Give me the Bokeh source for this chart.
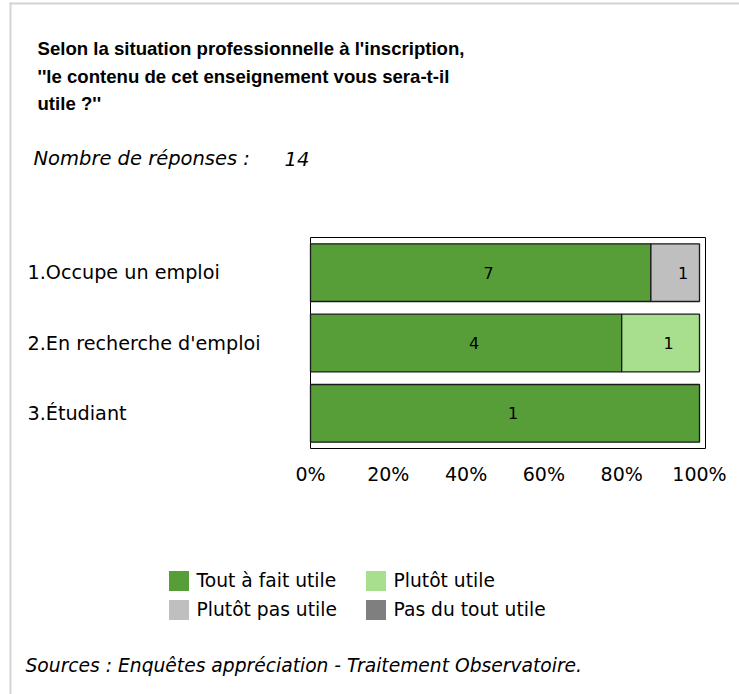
from bokeh.plotting import figure
from bokeh.models import (Label, Legend, LegendItem, NumeralTickFormatter, FixedTicker,
                          Range1d, BoxAnnotation)
from bokeh.core.properties import value
from bokeh.embed import file_html
from bokeh.resources import INLINE

# ---------------- data ----------------
title_lines = ["Selon la situation professionnelle à l'inscription,",
               "''le contenu de cet enseignement vous sera-t-il",
               "utile ?''"]
n_label = "Nombre de réponses :"
n_responses = 14
source_note = "Sources : Enquêtes appréciation - Traitement Observatoire."

categories = ["1.Occupe un emploi", "2.En recherche d'emploi", "3.Étudiant"]
series_names = ["Tout à fait utile", "Plutôt utile", "Plutôt pas utile", "Pas du tout utile"]
tout_a_fait_utile = [7, 4, 1]
plutot_utile = [0, 1, 0]
plutot_pas_utile = [1, 0, 0]
pas_du_tout_utile = [0, 0, 0]
series_values = [tout_a_fait_utile, plutot_utile, plutot_pas_utile, pas_du_tout_utile]
colors = ["#579E38", "#A8DF8E", "#BFBFBF", "#7F7F7F"]
x_ticks = [0, 0.2, 0.4, 0.6, 0.8, 1.0]

# ---------------- layout (pixels on the canvas) ----------------
W, H = 739, 694
X0_PX, X100_PX = 310, 699          # where 0% and 100% fall
BOX_R_PX = 705                     # right edge of plot box
BOX_T_PX, BOX_B_PX = 237, 448      # top / bottom of plot box

n_cat = len(categories)
ypos = [n_cat - i for i in range(n_cat)]  # top category at top
px_per_x = (X100_PX - X0_PX) / 1.0
px_per_y = (BOX_B_PX - BOX_T_PX) / n_cat
y_lo, y_hi = 0.5, n_cat + 0.5
x_range = Range1d(-X0_PX / px_per_x, (W - X0_PX) / px_per_x)
y_range = Range1d(y_lo - (H - BOX_B_PX) / px_per_y, y_hi + BOX_T_PX / px_per_y)
box_right = (BOX_R_PX - X0_PX) / px_per_x


def sy(py):
    return H - py


p = figure(width=W, height=H, output_backend="svg", toolbar_location=None,
           x_range=x_range, y_range=y_range,
           min_border=0, min_border_left=0, min_border_right=0,
           min_border_top=0, min_border_bottom=0)
p.background_fill_color = "white"
p.border_fill_color = "white"
p.outline_line_color = None
p.xgrid.visible = False
p.ygrid.visible = False
p.yaxis.visible = False

xa = p.xaxis[0]
xa.fixed_location = y_lo
xa.ticker = FixedTicker(ticks=x_ticks)
xa.formatter = NumeralTickFormatter(format="0%")
xa.axis_line_color = None
xa.major_tick_line_color = None
xa.minor_tick_line_color = None
xa.major_tick_out = 0
xa.major_tick_in = 0
xa.major_label_standoff = 14
xa.major_label_text_font = "DejaVu Sans"
xa.major_label_text_font_size = "19px"
xa.major_label_text_color = "#000000"

# plot box outline
p.quad(left=[0], right=[box_right], bottom=[y_lo], top=[y_hi], fill_color=None,
       line_color="#000000", line_width=1)

# ---------------- stacked bars (percent of row total) ----------------
totals = [sum(s[i] for s in series_values) for i in range(n_cat)]
cum = [0.0] * n_cat
lab_x, lab_y, lab_t = [], [], []
for name, vals, col in zip(series_names, series_values, colors):
    ys, lefts, rights = [], [], []
    for i, v in enumerate(vals):
        if v > 0:
            share = v / totals[i]
            ys.append(ypos[i])
            lefts.append(cum[i])
            rights.append(cum[i] + share)
            lab_x.append(cum[i] + share / 2)
            lab_y.append(ypos[i])
            lab_t.append(str(v))
            cum[i] += share
    if ys:
        p.hbar(y=ys, left=lefts, right=rights, height=0.82, fill_color=col,
               line_color="#1a1a1a", line_width=1.3)

p.text(x=lab_x, y=lab_y, text=lab_t, x_offset=8, text_align="center",
       text_baseline="middle", text_font=value("DejaVu Sans"), text_font_size="16px",
       text_color="#000000")

# ---------------- legend (zero-width proxy bars, no outline) ----------------
items = []
for name, col in zip(series_names, colors):
    r = p.hbar(y=[ypos[0]], left=[0], right=[0], height=0.8, fill_color=col,
               line_color=None)
    items.append(LegendItem(label=name, renderers=[r]))
legend = Legend(items=items, location=(165.5, sy(621.5)), orientation="horizontal",
                ncols=2, glyph_width=25, glyph_height=25, label_standoff=6,
                label_width=162, label_height=20, spacing=4, padding=0, margin=0,
                border_line_color=None, background_fill_alpha=0,
                label_text_font="DejaVu Sans", label_text_font_size="18.7px",
                label_text_color="#000000")
p.add_layout(legend)

# ---------------- texts ----------------
for k, line in enumerate(title_lines):
    p.add_layout(Label(x=37, y=sy(48 + 27.5 * k), x_units="screen", y_units="screen",
                       text=line, text_font="Liberation Sans", text_font_style="bold",
                       text_font_size="18.6px", text_color="#000000",
                       text_baseline="alphabetic"))

p.add_layout(Label(x=33, y=sy(158), x_units="screen", y_units="screen",
                   text=n_label, text_font="DejaVu Sans", text_font_style="italic",
                   text_font_size="19.5px", text_color="#000000", text_baseline="alphabetic"))
p.add_layout(Label(x=284, y=sy(158), x_units="screen", y_units="screen",
                   text=str(n_responses), text_font="DejaVu Sans", text_font_style="italic",
                   text_font_size="19.5px", text_color="#000000", text_baseline="alphabetic"))

for cat, yv in zip(categories, ypos):
    p.add_layout(Label(x=27, y=yv, x_units="screen", y_units="data", text=cat,
                       text_font="DejaVu Sans", text_font_size="19.2px", text_color="#000000",
                       text_baseline="middle", text_align="left"))

p.add_layout(Label(x=25, y=sy(665), x_units="screen", y_units="screen",
                   text=source_note, text_font="DejaVu Sans", text_font_style="italic",
                   text_font_size="18.7px", text_color="#000000", text_baseline="middle"))

# ---------------- panel borders (light gray) ----------------
p.add_layout(BoxAnnotation(left=9, right=W, top=sy(2), bottom=sy(4),
                           left_units="screen", right_units="screen",
                           top_units="screen", bottom_units="screen",
                           fill_color="#D4D4D4", fill_alpha=1, line_color=None))
p.add_layout(BoxAnnotation(left=9, right=11, top=sy(2), bottom=sy(H),
                           left_units="screen", right_units="screen",
                           top_units="screen", bottom_units="screen",
                           fill_color="#D4D4D4", fill_alpha=1, line_color=None))

open("out.html", "w").write(file_html(p, INLINE))
